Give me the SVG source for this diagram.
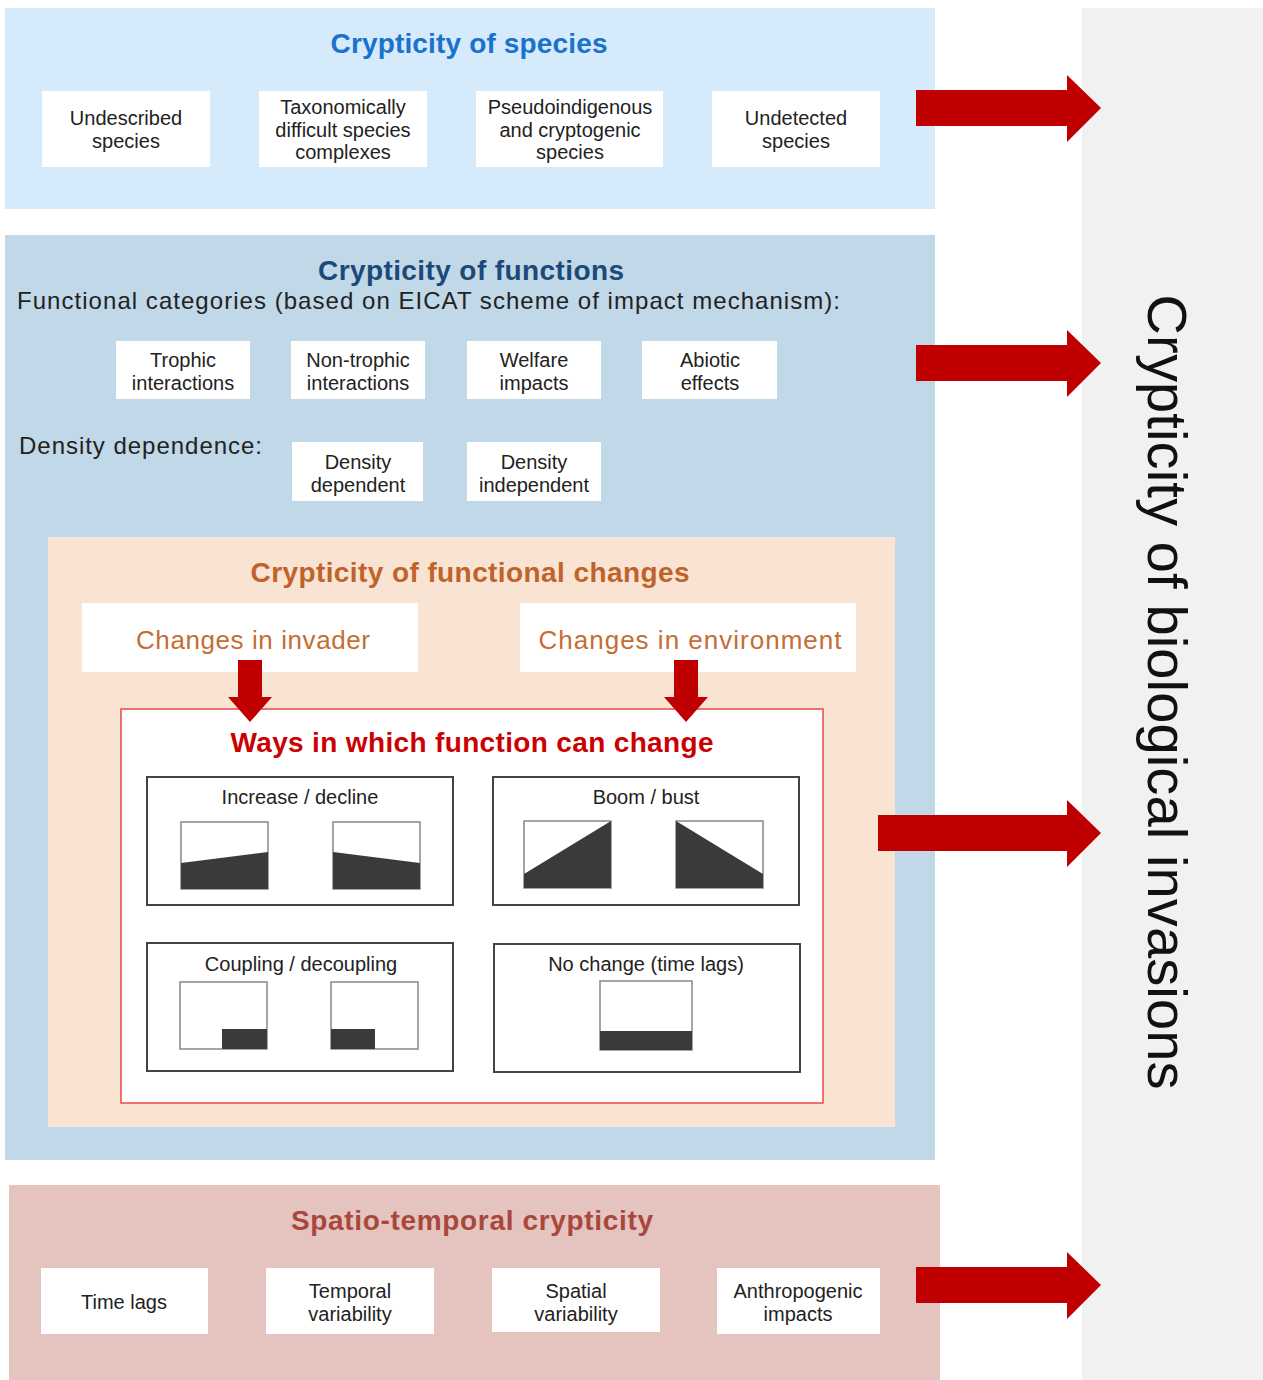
<svg xmlns="http://www.w3.org/2000/svg" width="1263" height="1380" viewBox="0 0 1263 1380">
<defs>
<style>
text{font-family:"Liberation Sans",Arial,sans-serif;}
.box{fill:#ffffff;}
.bt{font-size:20px;fill:#222;text-anchor:middle;}
.title{font-size:28px;font-weight:bold;text-anchor:middle;}
.sub{font-size:24px;fill:#222;}
.frame{fill:#fff;stroke:#444;stroke-width:2;}
.chart{fill:#fff;stroke:#888;stroke-width:1.5;}
.dark{fill:#3a3a3a;}
.arrow{fill:#c00000;}
.ch{font-size:26px;fill:#c46e34;text-anchor:middle;}
</style>
</defs>
<rect width="1263" height="1380" fill="#ffffff"/>

<g id="side-panel">
<rect x="1082" y="8" width="181" height="1372" fill="#f1f1f1"/>
<text transform="translate(1148,692) rotate(90)" font-size="56" fill="#111" text-anchor="middle" textLength="795">Crypticity of biological invasions</text>
</g>

<g id="species-panel">
<rect x="5" y="8" width="930" height="201" fill="#d5eafb"/>
<text class="title" x="469" y="53" fill="#1a72cc" textLength="277">Crypticity of species</text>
</g>
<g id="undescribed"><rect class="box" x="42" y="91" width="168" height="76"/>
<text class="bt" x="126" y="125">Undescribed</text><text class="bt" x="126" y="148">species</text></g>
<g id="taxonomically"><rect class="box" x="259" y="91" width="168" height="76"/>
<text class="bt" x="343" y="114">Taxonomically</text><text class="bt" x="343" y="137">difficult species</text><text class="bt" x="343" y="159">complexes</text></g>
<g id="pseudoindigenous"><rect class="box" x="476" y="91" width="187" height="76"/>
<text class="bt" x="570" y="114">Pseudoindigenous</text><text class="bt" x="570" y="137">and cryptogenic</text><text class="bt" x="570" y="159">species</text></g>
<g id="undetected"><rect class="box" x="712" y="91" width="168" height="76"/>
<text class="bt" x="796" y="125">Undetected</text><text class="bt" x="796" y="148">species</text></g>

<g id="functions-panel">
<rect x="5" y="235" width="930" height="925" fill="#c1d8e8"/>
<text class="title" x="471" y="280" fill="#1b4a78" textLength="306">Crypticity of functions</text>
<text class="sub" x="17" y="309" textLength="823">Functional categories (based on EICAT scheme of impact mechanism):</text>
<text class="sub" x="19" y="454" textLength="243">Density dependence:</text>
</g>
<g id="trophic"><rect class="box" x="116" y="341" width="134" height="58"/>
<text class="bt" x="183" y="367">Trophic</text><text class="bt" x="183" y="390">interactions</text></g>
<g id="non-trophic"><rect class="box" x="291" y="341" width="134" height="58"/>
<text class="bt" x="358" y="367">Non-trophic</text><text class="bt" x="358" y="390">interactions</text></g>
<g id="welfare"><rect class="box" x="467" y="341" width="134" height="58"/>
<text class="bt" x="534" y="367">Welfare</text><text class="bt" x="534" y="390">impacts</text></g>
<g id="abiotic"><rect class="box" x="642" y="341" width="135" height="58"/>
<text class="bt" x="710" y="367">Abiotic</text><text class="bt" x="710" y="390">effects</text></g>
<g id="density-dependent"><rect class="box" x="292" y="442" width="131" height="59"/>
<text class="bt" x="358" y="469">Density</text><text class="bt" x="358" y="492">dependent</text></g>
<g id="density-independent"><rect class="box" x="467" y="442" width="134" height="59"/>
<text class="bt" x="534" y="469">Density</text><text class="bt" x="534" y="492">independent</text></g>

<g id="functional-changes-panel">
<rect x="48" y="537" width="847" height="590" fill="#f9e3d3"/>
<text class="title" x="470" y="582" fill="#c0632a" textLength="439">Crypticity of functional changes</text>
</g>
<g id="changes-invader"><rect class="box" x="82" y="603" width="336" height="69"/>
<text class="ch" x="253" y="649" textLength="234">Changes in invader</text></g>
<g id="changes-environment"><rect class="box" x="520" y="603" width="336" height="69"/>
<text class="ch" x="690" y="649" textLength="303">Changes in environment</text></g>

<g id="ways-box">
<rect x="121" y="709" width="702" height="394" fill="#fff" stroke="#e8484a" stroke-width="1.5"/>
<text class="title" x="472" y="752" fill="#cc0000" textLength="483">Ways in which function can change</text>
</g>

<g id="increase-decline">
<rect class="frame" x="147" y="777" width="306" height="128"/>
<text class="bt" x="300" y="804">Increase / decline</text>
<rect class="chart" x="181" y="822" width="87" height="67"/>
<polygon class="dark" points="181,863 268,852 268,889 181,889"/>
<rect class="chart" x="333" y="822" width="87" height="67"/>
<polygon class="dark" points="333,852 420,863 420,889 333,889"/>
</g>
<g id="boom-bust">
<rect class="frame" x="493" y="777" width="306" height="128"/>
<text class="bt" x="646" y="804">Boom / bust</text>
<rect class="chart" x="524" y="821" width="87" height="67"/>
<polygon class="dark" points="524,874 611,821 611,888 524,888"/>
<rect class="chart" x="676" y="821" width="87" height="67"/>
<polygon class="dark" points="676,821 763,874 763,888 676,888"/>
</g>
<g id="coupling-decoupling">
<rect class="frame" x="147" y="943" width="306" height="128"/>
<text class="bt" x="301" y="971">Coupling / decoupling</text>
<rect class="chart" x="180" y="982" width="87" height="67"/>
<rect class="dark" x="222" y="1029" width="45" height="20"/>
<rect class="chart" x="331" y="982" width="87" height="67"/>
<rect class="dark" x="331" y="1029" width="44" height="20"/>
</g>
<g id="no-change">
<rect class="frame" x="494" y="944" width="306" height="128"/>
<text class="bt" x="646" y="971">No change (time lags)</text>
<rect class="chart" x="600" y="981" width="92" height="69"/>
<rect class="dark" x="600" y="1031" width="92" height="19"/>
</g>

<g id="spatio-temporal-panel">
<rect x="9" y="1185" width="931" height="195" fill="#e5c4c0"/>
<text class="title" x="472" y="1230" fill="#a8483d" textLength="362">Spatio-temporal crypticity</text>
</g>
<g id="time-lags"><rect class="box" x="41" y="1268" width="167" height="66"/>
<text class="bt" x="124" y="1309">Time lags</text></g>
<g id="temporal-variability"><rect class="box" x="266" y="1268" width="168" height="66"/>
<text class="bt" x="350" y="1298">Temporal</text><text class="bt" x="350" y="1321">variability</text></g>
<g id="spatial-variability"><rect class="box" x="492" y="1268" width="168" height="64"/>
<text class="bt" x="576" y="1298">Spatial</text><text class="bt" x="576" y="1321">variability</text></g>
<g id="anthropogenic-impacts"><rect class="box" x="717" y="1268" width="163" height="66"/>
<text class="bt" x="798" y="1298">Anthropogenic</text><text class="bt" x="798" y="1321">impacts</text></g>

<g id="connectors">
<polygon class="arrow" points="916,90 1067,90 1067,75 1101,108 1067,142 1067,126 916,126"/>
<polygon class="arrow" points="916,345 1067,345 1067,330 1101,363 1067,397 1067,381 916,381"/>
<polygon class="arrow" points="878,815 1067,815 1067,800 1101,833 1067,867 1067,851 878,851"/>
<polygon class="arrow" points="916,1267 1067,1267 1067,1252 1101,1285 1067,1319 1067,1303 916,1303"/>
<polygon class="arrow" points="238,660 262,660 262,697 272,697 250,722 228,697 238,697"/>
<polygon class="arrow" points="674,660 698,660 698,697 708,697 686,722 664,697 674,697"/>
</g>
</svg>
